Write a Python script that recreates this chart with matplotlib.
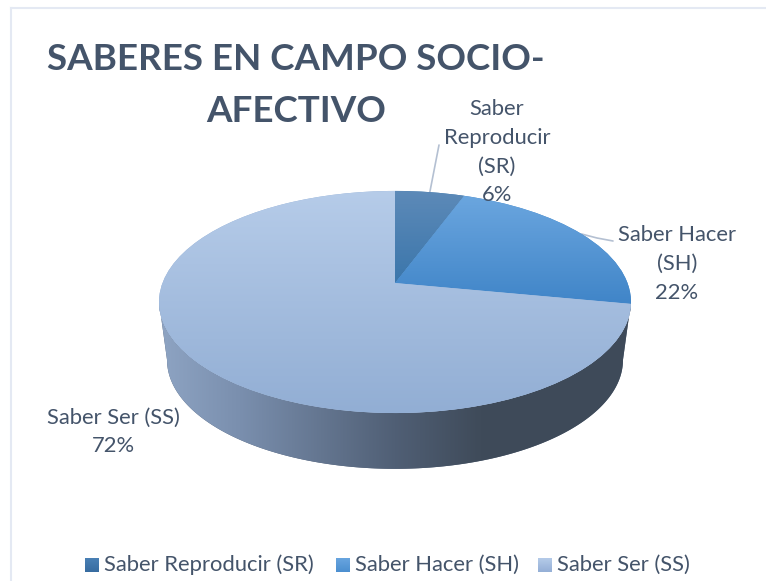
import numpy as np
import matplotlib
matplotlib.use("Agg")
import matplotlib.pyplot as plt
from matplotlib.colors import LinearSegmentedColormap as LSC
from matplotlib.patches import Rectangle, Polygon
from matplotlib.transforms import Transform

categories = ["Saber Reproducir (SR)", "Saber Hacer (SH)", "Saber Ser (SS)"]
values = [5.6, 22.4, 72.0]
title_lines = ["SABERES EN CAMPO SOCIO-", "AFECTIVO"]
top_colors = [("#5d8ab8", "#3b76ab"), ("#6ba6df", "#4085c8"), ("#b6cce9", "#92aed4")]
legend_colors = [("#4a80b5", "#376ca0"), ("#69a5df", "#4b8fd0"), ("#b5cbe9", "#94afd6")]
wall_colors = ["#8ea4c3", "#7a8fae", "#505f75", "#3f4b5a", "#3e4a59"]
text_color = "#44546a"

plt.rcParams["font.family"] = ["Lato", "DejaVu Sans"]
CX, CY, A, R, K = 395.0, 283.0, 107.8, 232.5, 0.171
WALL_DY, WALL_SX, WALL_SY, MIDY = 58.0, 0.966, 0.98, 302.0


def project(u, v):
    d = 1 + K * v
    return CX + R * u / d, CY - A * v / d


class Perspective(Transform):
    input_dims = output_dims = 2
    is_affine = False

    def transform_non_affine(self, xy):
        xy = np.asarray(xy, float)
        return np.column_stack(project(xy[:, 0], xy[:, 1]))


def lower(x, y):
    return CX + (x - CX) * WALL_SX, MIDY + (y - MIDY) * WALL_SY + WALL_DY


fig = plt.figure(figsize=(7.66, 5.81), dpi=100)
ax = fig.add_axes([0, 0, 1, 1])
wedges, _ = ax.pie(values, startangle=90, counterclock=False, radius=1, center=(0, 0))
ax.set_aspect("auto")
ax.axis("off")
persp = Perspective()


def gradient(patch, bbox, c0, c1, z, horizontal=False):
    cm = LSC.from_list("g", [c0, c1])
    g = np.linspace(0, 1, 256).reshape(-1, 1)
    im = ax.imshow(g, cmap=cm, extent=(bbox[0], bbox[2], bbox[3], bbox[1]), origin="upper",
                   aspect="auto", zorder=z, interpolation="bilinear")
    im.set_clip_path(patch)
    return im


# side wall (front half of the rim)
t0 = np.arcsin(K)
t = np.linspace(np.pi + t0, 2 * np.pi - t0, 240)
tx, ty = project(np.cos(t), np.sin(t))
bx, by = lower(tx, ty)
wall = Polygon(np.column_stack([np.r_[tx, bx[::-1]], np.r_[ty, by[::-1]]]), closed=True,
               facecolor="#505f75", edgecolor="none", zorder=1)
ax.add_patch(wall)
wall_cm = LSC.from_list("w", list(zip([0, 0.17, 0.5, 0.68, 1], wall_colors)))
wall_im = ax.imshow(np.linspace(0, 1, 256).reshape(1, -1), cmap=wall_cm,
                    extent=(tx.min(), tx.max(), by.max(), ty.min()), aspect="auto",
                    zorder=1.5, interpolation="bilinear")
wall_im.set_clip_path(wall)

# top surface
for i, w in enumerate(wedges):
    w.set_transform(persp + ax.transData)
    w.set_facecolor(top_colors[i][1])
    w.set_edgecolor("none")
    w.set_zorder(2)
    ext = persp.transform_path(w.get_path()).get_extents()
    gradient(w, (ext.x0, ext.y0, ext.x1, ext.y1), top_colors[i][0], top_colors[i][1], 2.5 + i * 0.1)

# labels and leader lines
fracs = np.array(values) / sum(values)
ends = np.cumsum(fracs)
mids = (ends - fracs / 2) * 2 * np.pi
pct = [f"{round(v / sum(values) * 100)}%" for v in values]
lab = [
    ("Saber\nReproducir\n(SR)\n" + pct[0], 497, 152),
    ("Saber Hacer\n(SH)\n" + pct[1], 677, 264),
    ("Saber Ser (SS)\n" + pct[2], 113, 432),
]
for (s, x, y) in lab:
    ax.text(x, y, s, ha="center", va="center", fontsize=15.8, color=text_color,
            linespacing=1.56, zorder=6)

leaders = [(0, [439], [145]), (1, [597, 613], [238, 241])]
for i, lx, ly in leaders:
    px, py = project(np.sin(mids[i]), np.cos(mids[i]))
    ax.plot([px] + lx, [py] + ly, color="#b4c0d2", lw=1.2, zorder=1, solid_capstyle="round")

# title
ax.text(296, 60, title_lines[0], ha="center", va="center", fontsize=26.5, fontweight="bold", color=text_color)
ax.text(296, 112, title_lines[1], ha="center", va="center", fontsize=26.5, fontweight="bold", color=text_color)

# legend
lx = [85, 336, 538]
for i, name in enumerate(categories):
    sw = Rectangle((lx[i], 558), 14, 14, facecolor=legend_colors[i][1], edgecolor="none", zorder=3)
    ax.add_patch(sw)
    gradient(sw, (lx[i], 558, lx[i] + 14, 572), legend_colors[i][0], legend_colors[i][1], 4)
    ax.text(lx[i] + 19, 565, name, ha="left", va="center", fontsize=15.8, color=text_color, zorder=5)

# frame
ax.plot([11, 11], [581, 8], color="#e4e9f3", lw=1.5, zorder=0, clip_on=False)
ax.plot([11, 766], [8, 8], color="#e4e9f3", lw=1.5, zorder=0, clip_on=False)

ax.set_xlim(0, 766)
ax.set_ylim(581, 0)
fig.savefig("out.png", dpi=100, facecolor="white")
